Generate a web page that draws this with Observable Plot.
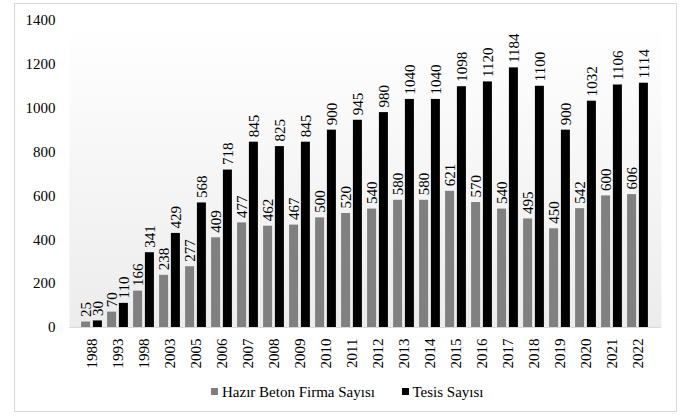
<!DOCTYPE html>
<html>
<head>
<meta charset="utf-8">
<script src="https://cdn.jsdelivr.net/npm/d3@7"></script>
<script src="https://cdn.jsdelivr.net/npm/@observablehq/plot@0.6"></script>
<style>
  body { margin: 0; background: #fff; font-family: 'Liberation Serif', 'Times New Roman', Times, 'DejaVu Serif', serif; }
  #wrap { position: relative; width: 685px; height: 416px; overflow: hidden; }
  #border { position: absolute; left: 14px; top: 3px; width: 663px; height: 409px; box-sizing: border-box; border: 1.5px solid #d9d9d9; }
  #chart { position: absolute; left: 0; top: 0; }
  #chart svg, #chart svg text { font-family: 'Liberation Serif', 'Times New Roman', Times, 'DejaVu Serif', serif !important; }
  .sw { position: absolute; width: 7.6px; height: 7.6px; }
  .lt { position: absolute; font-size: 15px; line-height: 17px; color: #000; white-space: nowrap; }
</style>
</head>
<body>
<div id="wrap">
  <div id="border"></div>
  <div id="chart"></div>
  <div id="legend"></div>
</div>
<script>
const years = ["1988","1993","1998","2003","2005","2006","2007","2008","2009","2010","2011","2012","2013","2014","2015","2016","2017","2018","2019","2020","2021","2022"];
const firmaSayisi = [25,70,166,238,277,409,477,462,467,500,520,540,580,580,621,570,540,495,450,542,600,606];
const tesisSayisi = [30,110,341,429,568,718,845,825,845,900,945,980,1040,1040,1098,1120,1184,1100,900,1032,1106,1114];
const yTicks = [0,200,400,600,800,1000,1200,1400];
const seriesNames = ["Hazır Beton Firma Sayısı", "Tesis Sayısı"];
const seriesColors = ["#808080", "#000000"];

const rows = years.map((year, i) => ({year, firma: firmaSayisi[i], tesis: tesisSayisi[i]}));
const font = "'Liberation Serif', 'Times New Roman', Times, 'DejaVu Serif', serif";

const chart = Plot.plot({
  width: 685,
  height: 375,
  marginLeft: 69,
  marginRight: 24,
  marginTop: 20,
  marginBottom: 48,
  style: {fontFamily: font, fontSize: "15px", color: "#000", background: "transparent", overflow: "visible"},
  x: {domain: years, paddingInner: 0.645, paddingOuter: 0.34, label: null},
  y: {domain: [0, 1400], label: null},
  marks: [
    Plot.frame({fill: "url(#plotbg)", stroke: "none"}),
    Plot.ruleY([0], {stroke: "#d9d9d9", strokeWidth: 1.2}),
    Plot.barY(rows, {x: "year", y: "firma", fill: seriesColors[0], dx: -5.9}),
    Plot.barY(rows, {x: "year", y: "tesis", fill: seriesColors[1], dx: 5.9}),
    Plot.text(rows, {x: "year", y: "firma", text: d => String(d.firma), rotate: -90, textAnchor: "start", lineAnchor: "middle", dx: -5.9, dy: -5, fontSize: 15, fill: "#000"}),
    Plot.text(rows, {x: "year", y: "tesis", text: d => String(d.tesis), rotate: -90, textAnchor: "start", lineAnchor: "middle", dx: 5.9, dy: -5, fontSize: 15, fill: "#000"}),
    Plot.axisY({ticks: yTicks, tickFormat: d => String(d), tickSize: 0, tickPadding: 14, fontSize: 15, label: null}),
    Plot.axisX({tickRotate: -90, tickSize: 0, tickPadding: 11, fontSize: 15, label: null})
  ]
});

// gradient for plot-area background
const ns = "http://www.w3.org/2000/svg";
const defs = document.createElementNS(ns, "defs");
const grad = document.createElementNS(ns, "linearGradient");
grad.setAttribute("id", "plotbg");
grad.setAttribute("x1", "0"); grad.setAttribute("y1", "0");
grad.setAttribute("x2", "0"); grad.setAttribute("y2", "1");
[["0", "#ffffff"], ["0.12", "#fdfdfd"], ["1", "#ececec"]].forEach(([o, c]) => {
  const s = document.createElementNS(ns, "stop");
  s.setAttribute("offset", o);
  s.setAttribute("stop-color", c);
  grad.appendChild(s);
});
defs.appendChild(grad);
chart.insertBefore(defs, chart.firstChild);

document.getElementById("chart").appendChild(chart);

// legend
const legend = document.getElementById("legend");
const legendPos = [{sq: 210.7, tx: 222}, {sq: 401.7, tx: 412.5}];
seriesNames.forEach((name, i) => {
  const sq = document.createElement("div");
  sq.className = "sw";
  sq.style.left = legendPos[i].sq + "px";
  sq.style.top = "387.6px";
  sq.style.background = seriesColors[i];
  legend.appendChild(sq);
  const t = document.createElement("div");
  t.className = "lt";
  t.style.left = legendPos[i].tx + "px";
  t.style.top = "384.3px";
  t.textContent = name;
  legend.appendChild(t);
});
</script>
</body>
</html>
